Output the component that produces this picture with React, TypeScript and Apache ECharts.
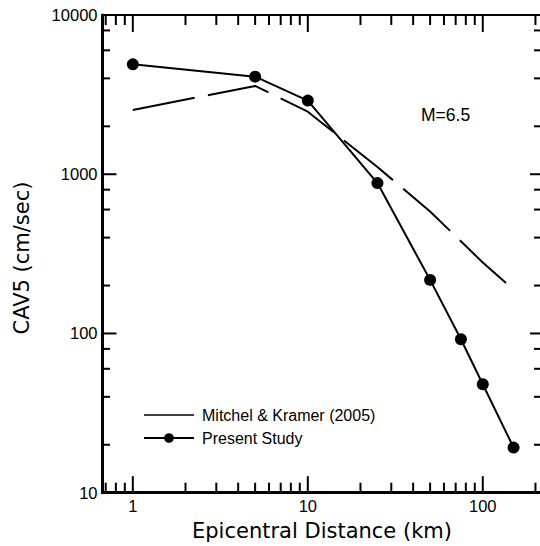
import React, { useEffect, useRef } from 'react';
import * as echarts from 'echarts';

const distances = [1, 5, 10, 25, 50, 75, 100, 150];
const presentStudy = [4900, 4100, 2900, 880, 217, 92, 48, 19.2];
const mkDistances = [1, 5, 10, 25, 50, 75, 100, 150];
const mitchelKramer = [2535, 3585, 2470, 1110, 583, 379, 279, 188];

const xMajorTicks = [1, 10, 100];
const xMinorTicks = [0.7, 0.8, 0.9, 2, 3, 4, 5, 6, 7, 8, 9, 20, 30, 40, 50, 60, 70, 80, 90, 200];
const yMajorTicks = [10, 100, 1000, 10000];
const yMinorTicks = [20, 40, 60, 80, 200, 400, 600, 800, 2000, 4000, 6000, 8000];
const xTickLabels = ['1', '10', '100'];
const yTickLabels = ['10', '100', '1000', '10000'];

const X_MIN = 0.671;
const X_MAX = 218;
const Y_MIN = 10;
const Y_MAX = 10000;

const FONT = "'Liberation Sans', Arial, sans-serif";
const TITLE_FONT = "'DejaVu Sans', 'Liberation Sans', sans-serif";

const gridRect = { left: 102.5, top: 15, width: 439.5, height: 477.7 };

// side: 0 bottom, 1 top, 2 left, 3 right -> [major, minor] lengths
const TICK_LEN: Record<number, [number, number]> = {
  0: [16.5, 10],
  1: [17, 10],
  2: [14, 7.5],
  3: [12, 8],
};

function plainAxis(position: string, min: number, max: number, lineWidth: number) {
  return {
    type: 'log',
    logBase: 10,
    position,
    min,
    max,
    axisLine: { show: lineWidth > 0, onZero: false, lineStyle: { color: '#000', width: lineWidth } },
    axisTick: { show: false },
    axisLabel: { show: false },
    splitLine: { show: false },
    minorTick: { show: false },
  };
}

export default function App() {
  const ref = useRef<HTMLDivElement>(null);
  useEffect(() => {
    if (!ref.current) return;
    const chart = echarts.init(ref.current, undefined, { renderer: 'svg' });

    const tickData: number[][] = [];
    [0, 1].forEach((side) => {
      xMajorTicks.forEach((v) => tickData.push([v, Y_MAX, side, 1]));
      xMinorTicks.forEach((v) => tickData.push([v, Y_MAX, side, 0]));
    });
    [2, 3].forEach((side) => {
      yMajorTicks.forEach((v) => tickData.push([X_MAX, v, side, 1]));
      yMinorTicks.forEach((v) => tickData.push([X_MAX, v, side, 0]));
    });

    const labelData: any[] = [
      ...xMajorTicks.map((v, i) => ({ value: [v, Y_MAX, 0], label: xTickLabels[i] })),
      ...yMajorTicks.map((v, i) => ({ value: [X_MAX, v, 1], label: yTickLabels[i] })),
    ];

    chart.setOption({
      animation: false,
      backgroundColor: '#fff',
      grid: [{ ...gridRect, containLabel: false, outerBoundsMode: 'none' }],
      xAxis: [plainAxis('bottom', X_MIN, X_MAX, 3), plainAxis('top', X_MIN, X_MAX, 2)],
      yAxis: [plainAxis('left', Y_MIN, Y_MAX, 3), plainAxis('right', Y_MIN, Y_MAX, 0)],
      legend: {
        show: true,
        orient: 'vertical',
        left: 143,
        top: 407,
        padding: 0,
        itemWidth: 50,
        itemHeight: 12,
        itemGap: 7,
        textStyle: { color: '#000', fontFamily: FONT, fontSize: 16, padding: [0, 0, 0, 3] },
        data: [
          {
            name: 'Mitchel & Kramer (2005)',
            lineStyle: { width: 1.5, type: 'solid' },
            itemStyle: { color: 'rgba(0,0,0,0)', opacity: 0, borderWidth: 0 },
          },
          { name: 'Present Study' },
        ],
      },
      graphic: [
        {
          type: 'text',
          left: 421,
          top: 106,
          style: { text: 'M=6.5', fill: '#000', font: `17.5px ${FONT}` },
        },
        {
          type: 'text',
          x: 322,
          y: 520,
          style: {
            text: 'Epicentral Distance (km)',
            fill: '#000',
            font: `21px ${TITLE_FONT}`,
            align: 'center',
            verticalAlign: 'top',
          },
        },
        {
          type: 'text',
          x: 22,
          y: 258,
          rotation: Math.PI / 2,
          style: {
            text: 'CAV5 (cm/sec)',
            fill: '#000',
            font: `21px ${TITLE_FONT}`,
            align: 'center',
            verticalAlign: 'middle',
          },
        },
      ],
      series: [
        {
          name: 'Mitchel & Kramer (2005)',
          type: 'line',
          data: mkDistances.map((d, i) => [d, mitchelKramer[i]]),
          symbol: 'none',
          lineStyle: { color: '#000', width: 2, type: [63, 13.5] },
          itemStyle: { color: '#000' },
          z: 2,
        },
        {
          name: 'Present Study',
          type: 'line',
          data: distances.map((d, i) => [d, presentStudy[i]]),
          symbol: 'circle',
          symbolSize: 12,
          showAllSymbol: true,
          lineStyle: { color: '#000', width: 2 },
          itemStyle: { color: '#000' },
          z: 3,
        },
        {
          name: 'axisTicks',
          type: 'custom',
          silent: true,
          clip: false,
          z: 5,
          data: tickData,
          encode: { x: 0, y: 1 },
          renderItem: (params: any, api: any) => {
            const side = api.value(2);
            const major = api.value(3) === 1;
            const cs = params.coordSys;
            const len = TICK_LEN[side][major ? 0 : 1];
            const p = api.coord([api.value(0), api.value(1)]);
            let x1 = 0, y1 = 0, x2 = 0, y2 = 0;
            if (side === 0) {
              x1 = x2 = p[0];
              y1 = cs.y + cs.height;
              y2 = y1 - len;
            } else if (side === 1) {
              x1 = x2 = p[0];
              y1 = cs.y;
              y2 = y1 + len;
            } else if (side === 2) {
              y1 = y2 = p[1];
              x1 = cs.x;
              x2 = x1 + len;
            } else {
              y1 = y2 = p[1];
              x1 = cs.x + cs.width;
              x2 = x1 - len;
            }
            return {
              type: 'line',
              shape: { x1, y1, x2, y2 },
              style: { stroke: '#000', lineWidth: 2 },
              silent: true,
            };
          },
        },
        {
          name: 'tickLabels',
          type: 'custom',
          silent: true,
          clip: false,
          z: 5,
          data: labelData,
          encode: { x: 0, y: 1 },
          renderItem: (params: any, api: any) => {
            const cs = params.coordSys;
            const isY = api.value(2) === 1;
            const p = api.coord([api.value(0), api.value(1)]);
            const text = labelData[params.dataIndex].label;
            if (!isY) {
              return {
                type: 'text',
                x: p[0],
                y: cs.y + cs.height + 5,
                style: { text, fill: '#000', font: `16.5px ${FONT}`, align: 'center', verticalAlign: 'top' },
                silent: true,
              };
            }
            return {
              type: 'text',
              x: cs.x - 5,
              y: p[1],
              style: { text, fill: '#000', font: `16.5px ${FONT}`, align: 'right', verticalAlign: 'middle' },
              silent: true,
            };
          },
        },
      ],
    });
    return () => chart.dispose();
  }, []);
  return <div ref={ref} style={{ width: 540, height: 546, position: 'absolute', left: 0, top: 0 }} />;
}
